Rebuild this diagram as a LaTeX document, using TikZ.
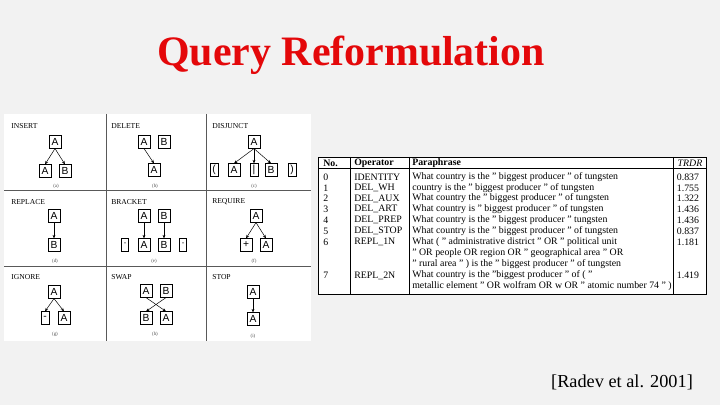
\documentclass[tikz,border=0pt]{standalone}
\usepackage{fontspec}
\setmainfont{Liberation Serif}
\newfontfamily\boxfont{Liberation Sans}
\definecolor{slidebg}{RGB}{242,242,242}
\definecolor{titlered}{RGB}{228,8,10}
\usetikzlibrary{arrows.meta,positioning}

\begin{document}
\begin{tikzpicture}[x=0.025cm, y=-0.025cm,
    opbox/.style={draw=black, line width=0.55pt, fill=white, inner sep=0pt,
                minimum width=0.3cm, minimum height=0.31cm, font=\boxfont\fontsize{7.3}{8}\selectfont},
    opthin/.style={opbox, minimum width=0.2cm},
    opsmall/.style={opbox, minimum width=0.17cm, font=\fontsize{4}{4}\selectfont},
    oplabel/.style={anchor=west, inner sep=0pt, font=\fontsize{5.4}{6}\selectfont},
    opcap/.style={inner sep=0pt, font=\fontsize{3.5}{4}\selectfont, text=black!70},
    optip/.style={-{Stealth[length=2.5pt,width=2pt]}, line width=0.35pt},
    tcell/.style={anchor=west, inner sep=0pt, font=\fontsize{7}{7.6}\selectfont},
    tval/.style={inner sep=0pt, font=\fontsize{7}{7.6}\selectfont}
  ]
  % slide background
  \fill[slidebg] (0,0) rectangle (720,405);
  \useasboundingbox (0,0) rectangle (720,405);

  \node[font=\bfseries\fontsize{29.8}{32}\selectfont, text=titlered] (title) at (351,55) {Query Reformulation};

  % operator figure
  \fill[white] (4,114) rectangle (311,341);
  \draw[black!65, line width=0.6pt] (106,114) -- (106,341) (206,114) -- (206,341)
    (4,190) -- (311,190) (4,266) -- (311,266);

  % INSERT
  \node[oplabel] (insT) at (11,126) {INSERT};
  \node[opbox] (insP) at (55,142) {A};
  \node[opbox] (insA) at (45,171) {A};
  \node[opbox] (insB) at (65,171) {B};
  \node[opcap] (insC) at (56,186) {(a)};
  \draw[optip] (insP.south) -- (insA.north);
  \draw[optip] (insP.south) -- (insB.north);

  % DELETE
  \node[oplabel] (delT) at (111,126) {DELETE};
  \node[opbox] (delA) at (144,142) {A};
  \node[opbox] (delB) at (164,142) {B};
  \node[opbox] (delK) at (154,170) {A};
  \node[opcap] (delC) at (155,186) {(b)};
  \draw[optip] (delA.south) -- (delK.north);

  % DISJUNCT
  \node[oplabel] (disT) at (212,126) {DISJUNCT};
  \node[opbox] (disP) at (254,142) {A};
  \node[opthin] (disL) at (214,170) {(};
  \node[opbox] (disA) at (234,170) {A};
  \node[opthin] (disM) at (254,170) {|};
  \node[opbox] (disB) at (271,170) {B};
  \node[opthin] (disR) at (292,170) {)};
  \node[opcap] (disC) at (254,186) {(c)};
  \foreach \k in {disA,disM,disB}
    \draw[optip] (disP.south) -- (\k.north);

  % REPLACE
  \node[oplabel] (repT) at (11,202) {REPLACE};
  \node[opbox] (repA) at (54,216) {A};
  \node[opbox] (repB) at (54,245) {B};
  \node[opcap] (repC) at (55,261) {(d)};
  \draw[optip] (repA) -- (repB);

  % BRACKET
  \node[oplabel] (braT) at (111,202) {BRACKET};
  \node[opbox] (braA) at (144,216) {A};
  \node[opbox] (braB) at (164,216) {B};
  \node[opsmall] (braL) at (125,245) {''};
  \node[opbox] (braX) at (144,245) {A};
  \node[opbox] (braY) at (164,245) {B};
  \node[opsmall] (braR) at (183,245) {''};
  \node[opcap] (braC) at (154,261) {(e)};
  \draw[optip] (braA) -- (braX);
  \draw[optip] (braB) -- (braY);

  % REQUIRE
  \node[oplabel] (reqT) at (212,202) {REQUIRE};
  \node[opbox] (reqP) at (256,216) {A};
  \node[opbox] (reqL) at (246,245) {+};
  \node[opbox] (reqA) at (266,245) {A};
  \node[opcap] (reqC) at (254,261) {(f)};
  \draw[optip] (reqP.south) -- (reqL.north);
  \draw[optip] (reqP.south) -- (reqA.north);

  % IGNORE
  \node[oplabel] (ignT) at (11,277) {IGNORE};
  \node[opbox] (ignP) at (54,292) {A};
  \node[opthin] (ignL) at (45,318) {-};
  \node[opbox] (ignA) at (64,318) {A};
  \node[opcap] (ignC) at (55,334) {(g)};
  \draw[optip] (ignP.south) -- (ignL.north);
  \draw[optip] (ignP.south) -- (ignA.north);

  % SWAP
  \node[oplabel] (swaT) at (111,277) {SWAP};
  \node[opbox] (swaA) at (146,291) {A};
  \node[opbox] (swaB) at (166,291) {B};
  \node[opbox] (swaY) at (146,318) {B};
  \node[opbox] (swaX) at (166,318) {A};
  \node[opcap] (swaC) at (155,334) {(h)};
  \draw[optip] (swaA.south) -- (swaX.north);
  \draw[optip] (swaB.south) -- (swaY.north);

  % STOP
  \node[oplabel] (stoT) at (212,277) {STOP};
  \node[opbox] (stoA) at (253,292) {A};
  \node[opbox] (stoK) at (253,319) {A};
  \node[opcap] (stoC) at (253,336) {(i)};
  \draw[optip] (stoA) -- (stoK);

  % paraphrase table
  \fill[white] (318,157) rectangle (706,294);
  \draw[line width=0.6pt] (318,157) rectangle (706,294);
  \draw[line width=0.5pt] (318,168) -- (706,168)
    (350,157) -- (350,294) (409,157) -- (409,294) (673,157) -- (673,294);
  \node[tcell, font=\bfseries\fontsize{7}{7.6}\selectfont] (hNo) at (323,163) {No.};
  \node[tcell, font=\bfseries\fontsize{7}{7.6}\selectfont] (hOp) at (354,163) {Operator};
  \node[tcell, font=\bfseries\fontsize{7}{7.6}\selectfont] (hPar) at (412,163) {Paraphrase};
  \node[tval, font=\itshape\fontsize{7}{7.6}\selectfont] (hVal) at (690,163) {TRDR};
  \foreach \y/\no/\op/\txt/\val in {
      177.5/0/IDENTITY/What country is the '' biggest producer '' of tungsten/0.837,
      188/1/DEL\_WH/country is the '' biggest producer '' of tungsten/1.755,
      198.5/2/DEL\_AUX/What country the '' biggest producer '' of tungsten/1.322,
      209/3/DEL\_ART/What country is '' biggest producer '' of tungsten/1.436,
      220/4/DEL\_PREP/What country is the '' biggest producer '' tungsten/1.436,
      231/5/DEL\_STOP/What country is the '' biggest producer '' of tungsten/0.837,
      242/6/REPL\_1N/What ( '' administrative district '' OR '' political unit/1.181,
      275.5/7/REPL\_2N/What country is the ''biggest producer '' of ( ''/1.419} {
    \node[tcell] (no\no) at (323,\y) {\no};
    \node[tcell] (op\no) at (354,\y) {\op};
    \node[tcell] (par\no) at (412,\y) {\txt};
    \node[tval] (val\no) at (688,\y) {\val};
  }
  \node[tcell] (par6b) at (412,253) {'' OR people OR region OR '' geographical area '' OR};
  \node[tcell] (par6c) at (412,264) {'' rural area '' ) is the '' biggest producer '' of tungsten};
  \node[tcell] (par7b) at (412,286.5) {metallic element '' OR wolfram OR w OR '' atomic number 74 '' )};

  \node[font=\fontsize{13}{15}\selectfont] (cite) at (622,382) {[Radev et al. 2001]};
\end{tikzpicture}
\end{document}
